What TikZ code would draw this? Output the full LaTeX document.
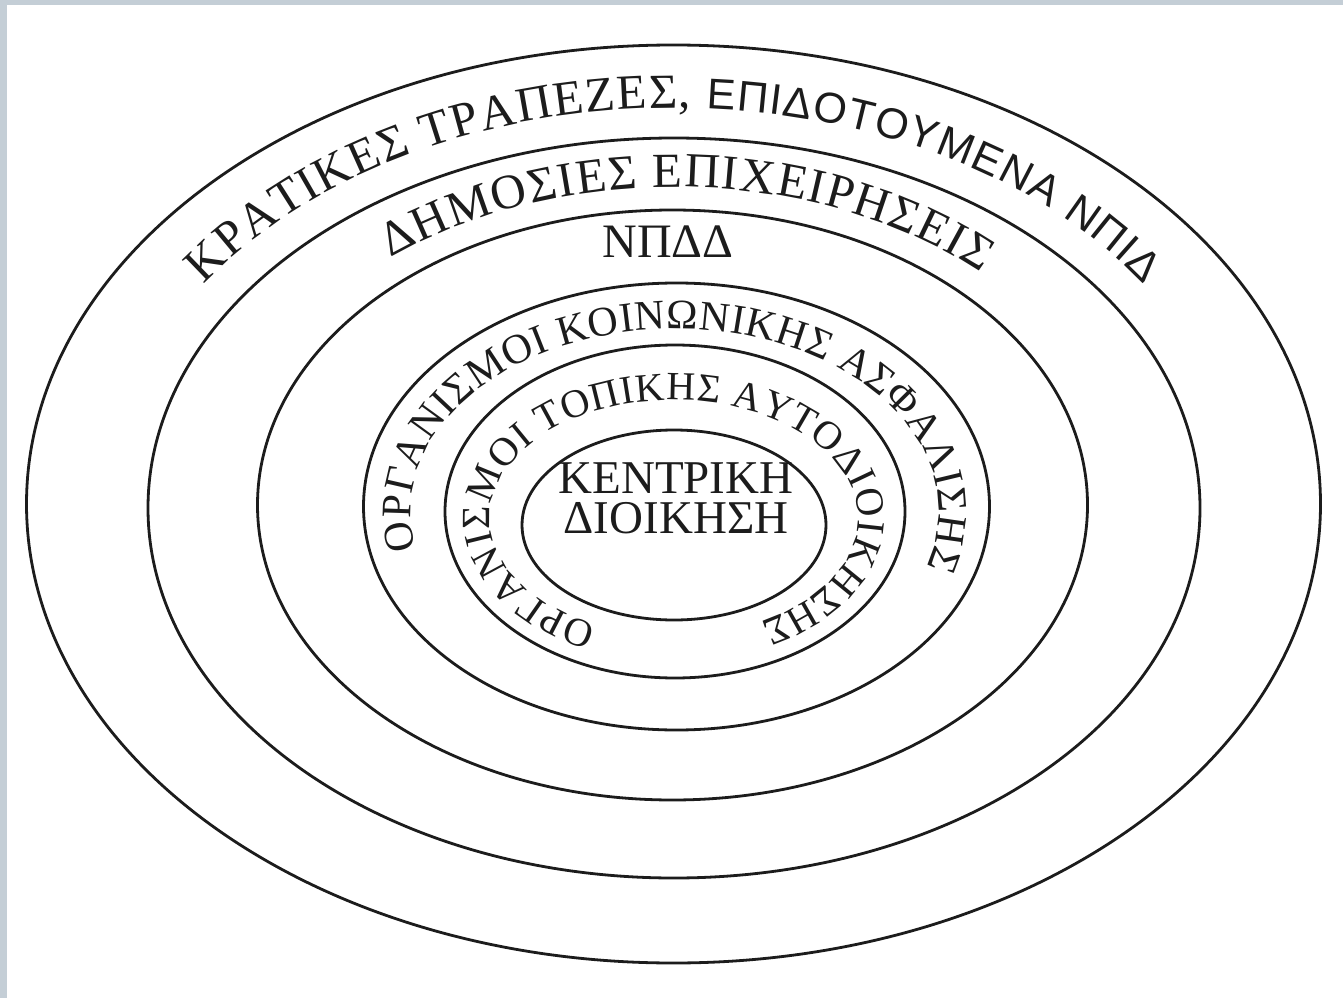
\documentclass[tikz,border=0pt]{standalone}
\usepackage{fontspec}
\setmainfont{Liberation Serif}
\newfontfamily\sansgr{Liberation Sans}
\usetikzlibrary{decorations.text,calc}
\definecolor{framec}{RGB}{196,206,214}
\definecolor{inkc}{RGB}{28,28,28}
\begin{document}
\begin{tikzpicture}[x=0.5pt,y=0.5pt,
  ring/.style={draw=inkc,line width=1.4pt},
  label/.style={text=inkc,inner sep=0pt}]
\fill[framec] (0,0) rectangle (1343,998);
\fill[white] (7,0) rectangle (1343,993);
\useasboundingbox (0,0) rectangle (1343,998);
% rings
\draw[ring] (673.5,494) ellipse [x radius=647, y radius=459];
\draw[ring] (674,490) ellipse [x radius=526, y radius=370];
\draw[ring] (672.5,493) ellipse [x radius=415, y radius=295];
\draw[ring] (676.5,491.5) ellipse [x radius=313, y radius=223.5];
\draw[ring] (675,486.5) ellipse [x radius=230, y radius=166.5];
\draw[ring] (674,473) ellipse [x radius=152, y radius=95];
% ring texts
\path[decorate,decoration={text along path,
  text={|\color{inkc}\fontsize{24.5pt}{28pt}\selectfont|ΚΡΑΤΙΚΕΣ ΤΡΑΠΕΖΕΣ, |\color{inkc}\sansgr\fontsize{21.5pt}{24pt}\selectfont|ΕΠΙΔΟΤΟΥΜΕΝΑ ΝΠΙΔ},
  text align={fit to path}}]
  ($(674,490)+(146:567 and 400)$) arc[start angle=146, end angle=34, x radius=567, y radius=400];
\path[decorate,decoration={text along path,
  text={|\color{inkc}\fontsize{24.5pt}{28pt}\selectfont|ΔΗΜΟΣΙΕΣ ΕΠΙΧΕΙΡΗΣΕΙΣ},
  text align={fit to path}}]
  ($(674,492)+(129:450 and 319)$) arc[start angle=129, end angle=47, x radius=450, y radius=319];
\node[label,font=\fontsize{24pt}{26pt}\selectfont] (npdd) at (668,756) {ΝΠΔΔ};
\path[decorate,decoration={text along path,
  text={|\color{inkc}\fontsize{21pt}{24pt}\selectfont|ΟΡΓΑΝΙΣΜΟΙ ΚΟΙΝΩΝΙΚΗΣ ΑΣΦΑΛΙΣΗΣ},
  text align={fit to path}}]
  ($(675,487)+(192:264 and 182)$) arc[start angle=192, end angle=-18, x radius=264, y radius=182];
\path[decorate,decoration={text along path,
  text={|\color{inkc}\fontsize{20pt}{24pt}\selectfont|ΟΡΓΑΝΙΣΜΟΙ ΤΟΠΙΚΗΣ ΑΥΤΟΔΙΟΙΚΗΣΗΣ},
  text align={fit to path}}]
  ($(674,480)+(245:184 and 118)$) arc[start angle=245, end angle=-62, x radius=184, y radius=118];
% centre
\node[label,font=\fontsize{23.5pt}{26pt}\selectfont] (kentriki) at (676,520) {ΚΕΝΤΡΙΚΗ};
\node[label,font=\fontsize{23.5pt}{26pt}\selectfont] (dioikisi) at (676,480) {ΔΙΟΙΚΗΣΗ};
\end{tikzpicture}
\end{document}
